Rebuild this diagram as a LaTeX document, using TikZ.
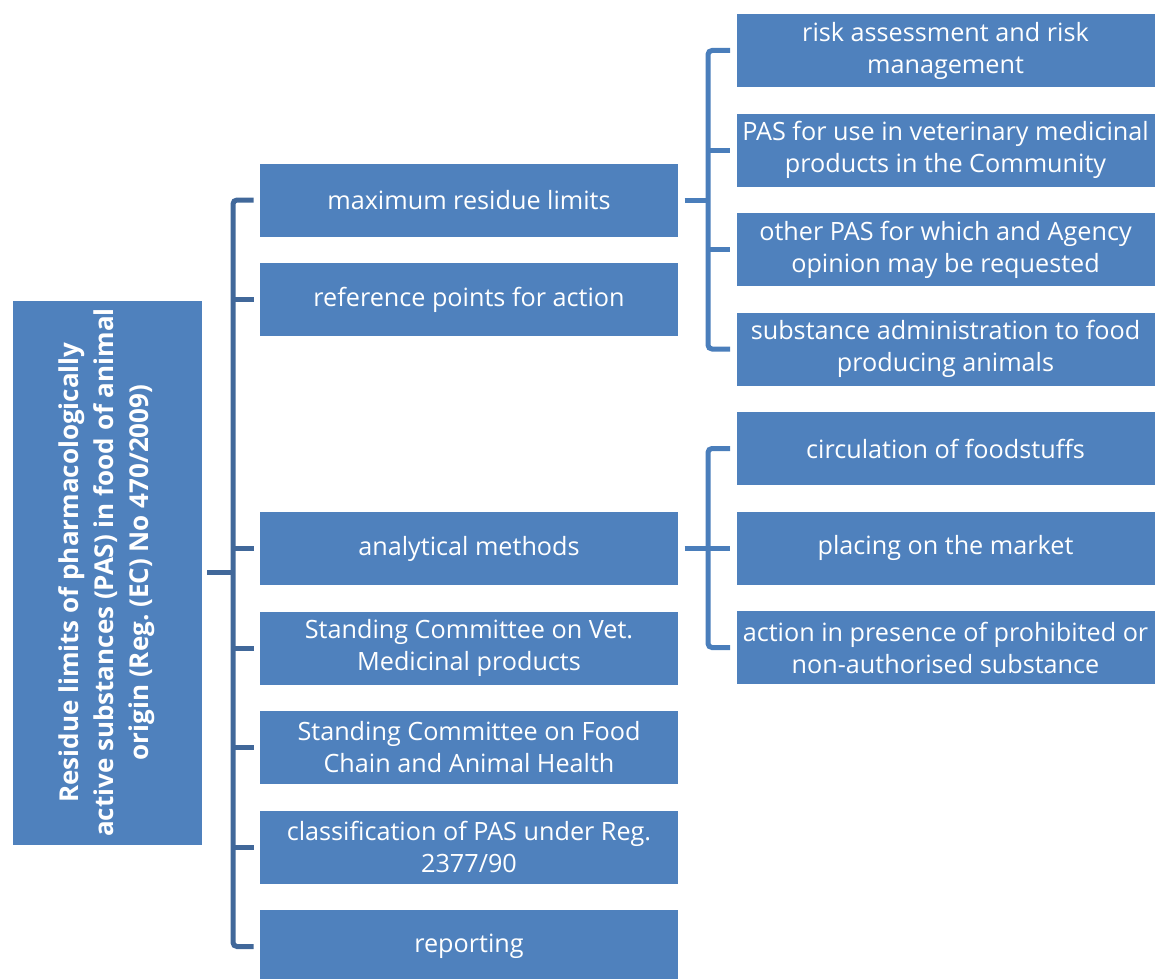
\documentclass[tikz,border=0pt]{standalone}
\usepackage{fontspec}
\setmainfont{Open Sans}
\usepackage{xcolor}
\usepackage{tikz}
\usetikzlibrary{
    positioning,
    calc
}
\definecolor{pasblue}{HTML}{4F81BD}
\definecolor{pasdark}{HTML}{41689A}
\definecolor{pasline}{HTML}{4A7EBB}
\frenchspacing
\tikzset{
    % Item box
    pasbox/.style={
        rectangle,
        draw=white,
        line width=0.8pt,
        outer sep=0pt,
        fill=pasblue,
        text=white,
        font=\fontsize{25.2}{32}\selectfont,
        minimum width=419pt,
        minimum height=74pt,
        align=center,
        inner sep=0pt
    },
    % Root box (turned on its side)
    rootbox/.style={
        pasbox,
        rotate=90,
        minimum width=545pt,
        minimum height=190pt,
        font=\fontsize{26}{35}\selectfont\bfseries
    },
    % Bracket lines
    bracket/.style={
        line width=5pt,
        rounded corners=4pt,
        color=#1
    },
    bracket/.default=pasline
}

\begin{document}
\begin{tikzpicture}[x=1pt, y=-1pt, node distance=25.5pt]
    \useasboundingbox (0,0) rectangle (1156,979);

    % Root
    \node[rootbox] (root) at (107,572.5) {Residue limits of pharmacologically\\active substances (PAS) in food of animal\\origin (Reg. (EC) No 470/2009)};

    % Left column
    \node[pasbox] (mrl) at (469,200) {maximum residue limits};
    \node[pasbox, below=of mrl] (rpa) {reference points for action};
    \node[pasbox] (anm) at (469,548.5) {analytical methods};
    \node[pasbox, below=of anm] (scv) {Standing Committee on Vet.\\Medicinal products};
    \node[pasbox, below=of scv] (scf) {Standing Committee on Food\\Chain and Animal Health};
    \node[pasbox, below=of scf] (cls) {classification of PAS under Reg.\\2377/90};
    \node[pasbox, below=of cls] (rep) {reporting};

    % Right column
    \node[pasbox] (ram) at (945.5,50.5) {risk assessment and risk\\management};
    \node[pasbox, below=of ram] (vmp) {PAS for use in veterinary medicinal\\products in the Community};
    \node[pasbox, below=of vmp] (oth) {other PAS for which and Agency\\opinion may be requested};
    \node[pasbox, below=of oth] (sub) {substance administration to food\\producing animals};
    \node[pasbox, below=of sub] (cof) {circulation of foodstuffs};
    \node[pasbox, below=of cof] (plm) {placing on the market};
    \node[pasbox, below=of plm] (aip) {action in presence of prohibited or\\non-authorised substance};

    % Spines
    \coordinate (lspine) at (233,0);
    \coordinate (rspine) at (708,0);

    % Left bracket (root.south is the right side of the turned box)
    \draw[bracket=pasdark] ([xshift=5pt]root.south) -- (lspine |- root.south);
    \draw[bracket=pasdark] ([xshift=-6pt]mrl.west) -| (lspine |- rep.west) -- ([xshift=-6pt]rep.west);
    \foreach \n in {rpa, anm, scv, scf, cls}
        \draw[bracket=pasdark] (lspine |- \n.west) -- ([xshift=-6pt]\n.west);

    % Right bracket, maximum residue limits
    \draw[bracket] ([xshift=6pt]mrl.east) -- (rspine |- mrl.east);
    \draw[bracket] ([xshift=-6pt]ram.west) -| (rspine |- sub.west) -- ([xshift=-6pt]sub.west);
    \foreach \n in {vmp, oth}
        \draw[bracket] (rspine |- \n.west) -- ([xshift=-6pt]\n.west);

    % Right bracket, analytical methods
    \draw[bracket] ([xshift=6pt]anm.east) -- ([xshift=-6pt]anm.east -| plm.west);
    \draw[bracket] ([xshift=-6pt]cof.west) -| (rspine |- aip.west) -- ([xshift=-6pt]aip.west);

\end{tikzpicture}
\end{document}
